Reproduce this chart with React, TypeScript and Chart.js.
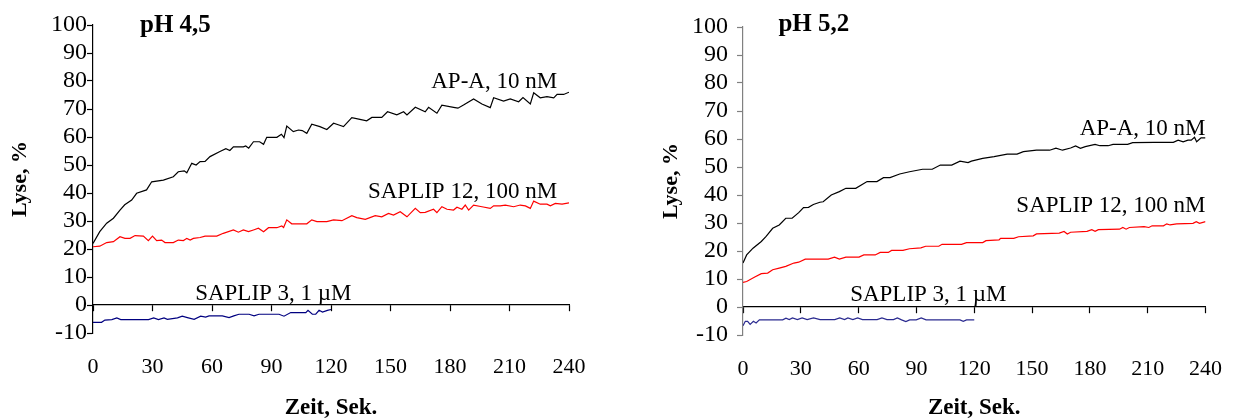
import { useEffect, useRef } from "react";
import { Chart, registerables } from "chart.js";

Chart.register(...registerables);

// ---- Time axis (seconds) and lysis axis (%) ----
const TIME_MIN = 0;
const TIME_MAX = 240;
const TIME_STEP = 30;
const LYSE_MIN = -10;
const LYSE_MAX = 100;
const LYSE_STEP = 10;

// ---- pH 4,5 ----
const apaPh45Time = [0, 3.4, 6.9, 10.3, 13.6, 16, 19.5, 22, 27, 29.6, 35.5, 40.5, 43, 46, 47.3, 49.8, 52, 54, 56.5, 59, 64, 67, 69, 70.8, 75.8, 77, 78.5, 80.9, 84, 86, 87.6, 92.7, 95, 96.3, 97.7, 101, 103.6, 105.5, 107.8, 110.3, 114.4, 117.9, 121.3, 124, 126.3, 130.5, 134, 138, 140.6, 145.6, 148.5, 153.2, 156.6, 158.3, 162.5, 167.5, 169.2, 173.4, 175.9, 181.8, 184, 186.8, 191.9, 196.1, 200.3, 202, 207, 210.4, 214.6, 216.8, 220.5, 222.2, 225.5, 228.9, 232.3, 234, 237.3, 240];
const apaPh45Lyse = [22, 26.2, 29.2, 31, 33.9, 35.8, 37.5, 39.9, 41.1, 44, 44.6, 45.8, 47.6, 47.9, 47.2, 50.6, 50, 51.2, 51.3, 53, 54.8, 55.8, 55.2, 56.5, 56.5, 56.8, 56, 58.3, 58.3, 57.4, 59.9, 59.9, 61, 59.8, 63.9, 61.9, 62.5, 62.3, 61.3, 64.6, 63.7, 62.7, 64.9, 64.3, 63.7, 66.9, 66.4, 65.8, 67, 67, 69, 67.9, 69, 67.9, 70.6, 69, 70.6, 68.5, 71.4, 70.6, 70.3, 71.4, 73.6, 71.8, 70.5, 74, 72.8, 73.6, 72.6, 74.1, 71.8, 75.8, 74, 74.4, 74, 75.2, 75.2, 76];

const sap12Ph45Time = [0, 3.4, 6.9, 10.3, 13.6, 16.1, 18.7, 21.2, 25.4, 27.9, 30, 32.1, 34.6, 36.3, 40.5, 43, 45.6, 47.3, 49, 50.6, 54, 56.5, 62.4, 65.7, 70.8, 73.3, 75.8, 78.4, 80.9, 83.4, 86, 88.5, 92.7, 95.2, 96.1, 97.7, 100.2, 107.8, 110.3, 112.9, 117.9, 121.3, 125.5, 130.5, 133, 137.3, 142.3, 145.6, 149, 151.5, 154.9, 158.3, 162.5, 165, 167.5, 171.7, 173.4, 175.9, 178.5, 181.8, 183.5, 186, 187.7, 189.4, 191.9, 196.1, 200.3, 202, 205.3, 207.9, 212.1, 215.4, 218, 220.5, 222.2, 225.5, 228.9, 230.6, 233.1, 236.5, 240];
const sap12Ph45Lyse = [20.8, 21, 22.3, 22.6, 24.4, 23.8, 23.8, 24.8, 24.6, 23, 24.6, 23, 23.2, 22.3, 22.3, 23.2, 23, 23.8, 23.2, 23.8, 24.1, 24.6, 24.6, 25.6, 26.8, 26, 26.8, 26.2, 26.8, 27.4, 26.2, 27.6, 27.6, 28.2, 27.7, 30.4, 29, 29, 30.4, 29.8, 29.8, 30.4, 30.1, 31.9, 31.2, 30.6, 31.9, 31.5, 32.7, 32.1, 33.3, 31.5, 34.5, 33, 33.1, 34.2, 33, 35.1, 34.2, 33.9, 34.9, 34.2, 35.7, 33.9, 35.7, 35.1, 34.5, 35.4, 35.4, 35.7, 35.1, 35.7, 35.4, 34.5, 37.1, 36, 36, 35.4, 36.3, 36, 36.5];

const sap3Ph45Time = [0, 4.3, 6, 9.5, 12, 14, 28, 30.6, 33, 35.8, 37.5, 42.6, 45, 47.6, 51, 54.3, 56.8, 58.5, 65.2, 68.6, 71, 73.6, 78.7, 81.2, 83.7, 93.8, 96.3, 99.7, 107.3, 108.4, 110.6, 112.3, 114, 115.7, 118.2, 120];
const sap3Ph45Lyse = [-6.2, -6.2, -5.4, -5.2, -4.6, -5.2, -5.2, -4.6, -5.2, -4.6, -5.1, -4.6, -4, -4.5, -5.1, -4, -4.3, -3.9, -3.9, -4.5, -3.9, -3.3, -3.3, -3.9, -3.3, -3.3, -4, -2.7, -2.7, -1.9, -3.3, -3.3, -1.9, -2.5, -1.9, -1.6];

// ---- pH 5,2 ----
const apaPh52Time = [0, 1.9, 5.2, 9.5, 12, 15.4, 18.8, 22.2, 25.5, 28.9, 31.4, 34, 36.5, 39.9, 41.6, 45.8, 50, 53.4, 58.5, 64.4, 69.5, 72.9, 76.3, 81.3, 86.4, 93.2, 98.2, 102.4, 108.3, 112.6, 116.8, 118.5, 124.4, 130.3, 137.1, 142.2, 145.5, 152.3, 159.1, 162.4, 165.8, 170, 172.6, 175.1, 177.6, 182.7, 185.2, 189.5, 192, 199.6, 202.2, 213.2, 223.3, 225.8, 228.4, 230.9, 232.6, 234.3, 235.4, 237.7, 240];
const apaPh52Lyse = [15.7, 18.6, 21, 23.4, 25.2, 28.1, 29.3, 31.7, 31.7, 33.7, 35.5, 35.6, 36.6, 37.4, 37.6, 40, 41.2, 42.4, 42.4, 44.8, 44.8, 46.2, 46.2, 47.5, 48.3, 49.2, 49.2, 50.7, 50.7, 52.1, 51.6, 52.1, 53.1, 53.7, 54.6, 54.6, 55.5, 56, 56, 56.7, 56, 56.8, 57.5, 56.7, 57.3, 58.1, 57.6, 57.6, 58.1, 58.1, 58.7, 58.8, 58.8, 59.6, 59, 59.6, 59.6, 60.6, 59, 60.4, 60.4];

const sap12Ph52Time = [0, 1.9, 6.1, 9.5, 12.8, 15.4, 18.8, 22.2, 26.4, 28.9, 32.3, 37.4, 44.2, 47.5, 50, 53.4, 60.2, 62.7, 68.6, 71.2, 75.4, 77.1, 83, 86.4, 92.3, 94.8, 101.6, 103.3, 113.4, 116, 124.4, 126.1, 132.9, 133.7, 140.5, 143, 150.6, 152.3, 164.1, 166.6, 168.3, 170, 178.5, 181, 182.7, 184.4, 195.4, 197.1, 198.8, 200.5, 208.1, 210.6, 212.3, 218.2, 219.9, 221.6, 225, 233.5, 235.2, 236.9, 240];
const sap12Ph52Lyse = [8.8, 9.1, 10.7, 11.9, 12.1, 13.3, 13.9, 14.5, 15.7, 16, 17.1, 17.1, 17.1, 17.8, 17.1, 17.8, 17.8, 18.6, 18.6, 19.5, 19.5, 20.2, 20.2, 20.8, 21.1, 21.7, 21.7, 22.4, 22.4, 23, 23, 23.7, 24, 24.5, 24.5, 25.1, 25.4, 26.1, 26.4, 27, 26.1, 26.7, 27, 27.6, 27, 27.6, 27.8, 28.4, 27.8, 28.4, 28.7, 28.4, 29, 29, 29.7, 29.3, 29.7, 29.9, 30.5, 29.9, 30.5];

const sap3Ph52Time = [0, 1.2, 2.4, 3.7, 5.4, 6.8, 8.5, 10.8, 20.6, 22.3, 24, 25.7, 28.2, 30.7, 33.3, 36.6, 40, 47.6, 50.2, 52.7, 54.4, 57, 59.5, 62, 69.6, 72.1, 74.7, 78.1, 80.1, 82.3, 84.5, 86.5, 89.9, 92.5, 95, 112.6, 114.3, 116, 120];
const sap3Ph52Lyse = [-6.7, -5.1, -5.1, -6.2, -5.1, -5.7, -4.6, -4.6, -4.6, -4, -4.5, -3.9, -4.5, -3.9, -4.5, -3.9, -4.5, -4.5, -3.9, -4.5, -3.9, -4.5, -3.9, -4.5, -4.5, -3.9, -4.5, -4.5, -3.9, -4.6, -5.2, -4.6, -4.6, -3.9, -4.6, -4.6, -5.1, -4.6, -4.6];

const SERIES_NAMES = ["AP-A, 10 nM", "SAPLIP 12, 100 nM", "SAPLIP 3, 1 µM"];

const toPoints = (t: number[], v: number[]) => t.map((x, i) => ({ x, y: v[i] }));

const FONT = "'Liberation Serif', 'Times New Roman', serif";

type Note = { text: string; t: number; v: number; align: CanvasTextAlign; bold?: boolean; size: number };

// Draws the panel heading and the in-plot curve names at data coordinates.
const panelTextPlugin = {
  id: "panelText",
  afterDraw(chart: any, _args: any, opts: any) {
    const { ctx, scales } = chart;
    const xs = scales.x;
    const ys = scales.y;
    (opts.notes as Note[]).forEach((n) => {
      ctx.save();
      ctx.font = `${n.bold ? "bold " : ""}${n.size}px ${FONT}`;
      ctx.fillStyle = "#000";
      ctx.textAlign = n.align;
      ctx.textBaseline = "alphabetic";
      ctx.fillText(n.text, xs.getPixelForValue(n.t), ys.getPixelForValue(n.v));
      ctx.restore();
    });
  },
};

type PanelSpec = {
  series: { t: number[]; v: number[]; color: string }[];
  notes: Note[];
  padTop: number;
  padRight: number;
  yWidth: number;
  xHeight: number;
  yTitlePad: number;
  yTickPad: number;
  yAxisColor: string;
};

function Panel({ spec, left, width }: { spec: PanelSpec; left: number; width: number }) {
  const ref = useRef<HTMLCanvasElement | null>(null);

  useEffect(() => {
    if (!ref.current) return;
    const chart = new Chart(ref.current, {
      type: "line",
      data: {
        datasets: spec.series.map((s, i) => ({
          label: SERIES_NAMES[i],
          data: toPoints(s.t, s.v),
          borderColor: s.color,
          backgroundColor: s.color,
          borderWidth: 1.2,
          pointRadius: 0,
          tension: 0,
          fill: false,
          xAxisID: "x",
          yAxisID: "y",
        })),
      },
      options: {
        animation: false,
        responsive: false,
        devicePixelRatio: 1,
        events: [],
        layout: { padding: { top: spec.padTop, right: spec.padRight, bottom: 0, left: 0 } },
        plugins: {
          legend: { display: false },
          tooltip: { enabled: false },
          title: { display: false },
          panelText: { notes: spec.notes },
        } as any,
        scales: {
          x: {
            type: "linear",
            position: "bottom",
            min: TIME_MIN,
            max: TIME_MAX,
            border: { display: false },
            grid: { display: false, drawTicks: false },
            ticks: {
              stepSize: TIME_STEP,
              autoSkip: false,
              padding: 21,
              color: "#000",
              font: { family: FONT, size: 22 },
              maxRotation: 0,
            },
            title: {
              display: true,
              text: "Zeit, Sek.",
              color: "#000",
              font: { family: FONT, size: 23, weight: "bold", lineHeight: 1 },
              padding: { top: 0, bottom: -2 },
            },
            afterFit: (s: any) => {
              s.height = spec.xHeight;
            },
          },
          xZero: {
            type: "linear",
            axis: "x",
            position: { y: 0 },
            min: TIME_MIN,
            max: TIME_MAX,
            border: { display: true, color: "#000", width: 1.2 },
            grid: { display: true, drawOnChartArea: false, drawTicks: true, tickLength: 6, color: "#000", tickWidth: 1.2 },
            ticks: { display: false, stepSize: TIME_STEP, autoSkip: false },
          },
          y: {
            type: "linear",
            position: "left",
            min: LYSE_MIN,
            max: LYSE_MAX,
            border: { display: true, color: spec.yAxisColor, width: 1.2 },
            grid: { display: true, drawOnChartArea: false, drawTicks: true, tickLength: 6, color: spec.yAxisColor, tickWidth: 1.2 },
            ticks: {
              stepSize: LYSE_STEP,
              autoSkip: false,
              padding: spec.yTickPad,
              color: "#000",
              font: { family: FONT, size: 24 },
            },
            title: {
              display: true,
              text: "Lyse, %",
              color: "#000",
              font: { family: FONT, size: 22, weight: "bold", lineHeight: 1 },
              padding: { top: spec.yTitlePad, bottom: 0 },
            },
            afterFit: (s: any) => {
              s.width = spec.yWidth;
            },
          },
        } as any,
      },
      plugins: [panelTextPlugin],
    });
    return () => chart.destroy();
  }, [spec]);

  return (
    <canvas
      ref={ref}
      width={width}
      height={418}
      style={{ position: "absolute", left, top: 0, width, height: 418 }}
    />
  );
}

const ph45: PanelSpec = {
  series: [
    { t: apaPh45Time, v: apaPh45Lyse, color: "#000000" },
    { t: sap12Ph45Time, v: sap12Ph45Lyse, color: "#ff0000" },
    { t: sap3Ph45Time, v: sap3Ph45Lyse, color: "#000080" },
  ],
  notes: [
    { text: "pH 4,5", t: 23.7, v: 97.6, align: "left", bold: true, size: 25 },
    { text: SERIES_NAMES[0], t: 234, v: 77.4, align: "right", size: 23 },
    { text: SERIES_NAMES[1], t: 234, v: 38.1, align: "right", size: 23 },
    { text: SERIES_NAMES[2], t: 51.5, v: 1.8, align: "left", size: 23 },
  ],
  padTop: 25,
  padRight: 52,
  yWidth: 93,
  xHeight: 85,
  yTitlePad: 9,
  yTickPad: 0,
  yAxisColor: "#000000",
};

const ph52: PanelSpec = {
  series: [
    { t: apaPh52Time, v: apaPh52Lyse, color: "#000000" },
    { t: sap12Ph52Time, v: sap12Ph52Lyse, color: "#ff0000" },
    { t: sap3Ph52Time, v: sap3Ph52Lyse, color: "#2a2a90" },
  ],
  notes: [
    { text: "pH 5,2", t: 18.4, v: 98.6, align: "left", bold: true, size: 25 },
    { text: SERIES_NAMES[0], t: 240, v: 61.4, align: "right", size: 23 },
    { text: SERIES_NAMES[1], t: 240, v: 33.9, align: "right", size: 23 },
    { text: SERIES_NAMES[2], t: 55.6, v: 2.2, align: "left", size: 23 },
  ],
  padTop: 27,
  padRight: 27,
  yWidth: 122,
  xHeight: 83,
  yTitlePad: 39,
  yTickPad: 9,
  yAxisColor: "#808080",
};

export default function App() {
  return (
    <div style={{ position: "absolute", left: 0, top: 0, width: 1243, height: 418, background: "#fff" }}>
      <Panel spec={ph45} left={0} width={621} />
      <Panel spec={ph52} left={621} width={622} />
    </div>
  );
}
